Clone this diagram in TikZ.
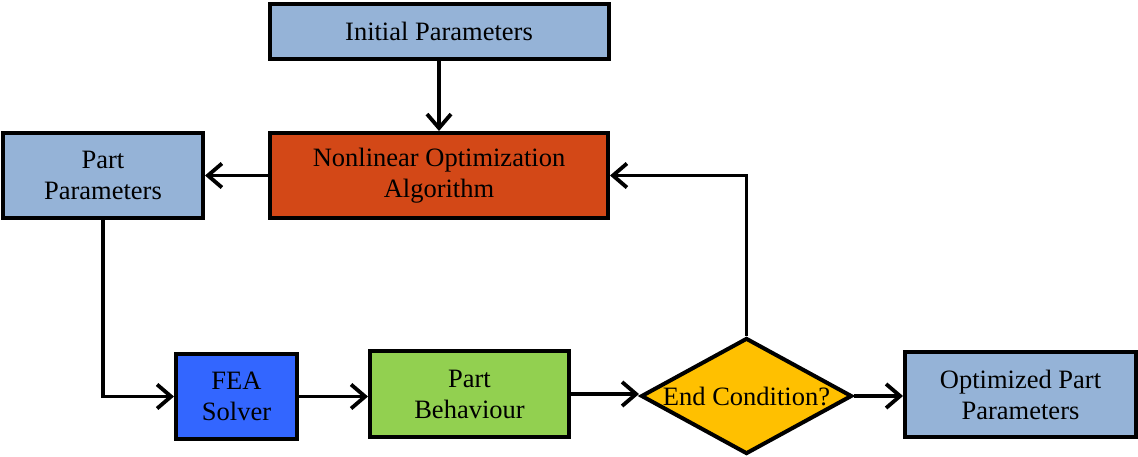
\documentclass[tikz,border=0pt]{standalone}
\usepackage{fontspec}
\setmainfont{Liberation Serif}
\usetikzlibrary{shapes.geometric,arrows.meta}
\definecolor{lblue}{HTML}{95B3D7}
\definecolor{orng}{HTML}{D34817}
\definecolor{feab}{HTML}{3366FF}
\definecolor{grn}{HTML}{92D050}
\definecolor{ylw}{HTML}{FFC000}
\tikzset{
  box/.style={draw=black, line width=4pt, inner sep=0pt, align=center,
    font=\fontsize{26.5}{31}\selectfont},
  conn/.style={line width=3.8pt, -{Straight Barb[length=14pt,width=24pt,line width=3.8pt]}}
}
\begin{document}
\begin{tikzpicture}[x=1pt,y=-1pt]
\useasboundingbox (0,0) rectangle (1138,456);
\node[box, fill=lblue, minimum width=339, minimum height=55] (ip) at (439,31) {Initial Parameters};
\node[box, fill=orng, minimum width=338, minimum height=85] (noa) at (439,175.5) {Nonlinear Optimization\\Algorithm};
\node[box, fill=lblue, minimum width=200, minimum height=85] (pp) at (103,175.5) {Part\\Parameters};
\node[box, fill=feab, minimum width=121, minimum height=85] (fea) at (236.5,396.5) {FEA\\Solver};
\node[box, fill=grn, minimum width=199, minimum height=86] (pb) at (469.5,394) {Part\\Behaviour};
\node[diamond, draw=black, line width=4pt, fill=ylw, minimum width=211, minimum height=116, inner sep=0pt] (dec) at (746.5,396) {};
\node[font=\fontsize{26.5}{31}\selectfont] (dect) at (dec.center) {End Condition?};
\node[box, fill=lblue, minimum width=231, minimum height=85] (opp) at (1020.5,394.5) {Optimized Part\\Parameters};

\draw[conn] (ip.south) -- (noa.north);
\draw[conn] (noa.west) -- (pp.east);
\draw[conn] (pp.south) |- (fea.west);
\draw[conn] (fea.east) -- (fea.east -| pb.west);
\draw[conn] (pb.east) -- (pb.east -| dec.west);
\draw[conn] (dec.east) -- (dec.east -| opp.west);
\draw[conn] (dec.north) |- (noa.east);
\end{tikzpicture}
\end{document}
